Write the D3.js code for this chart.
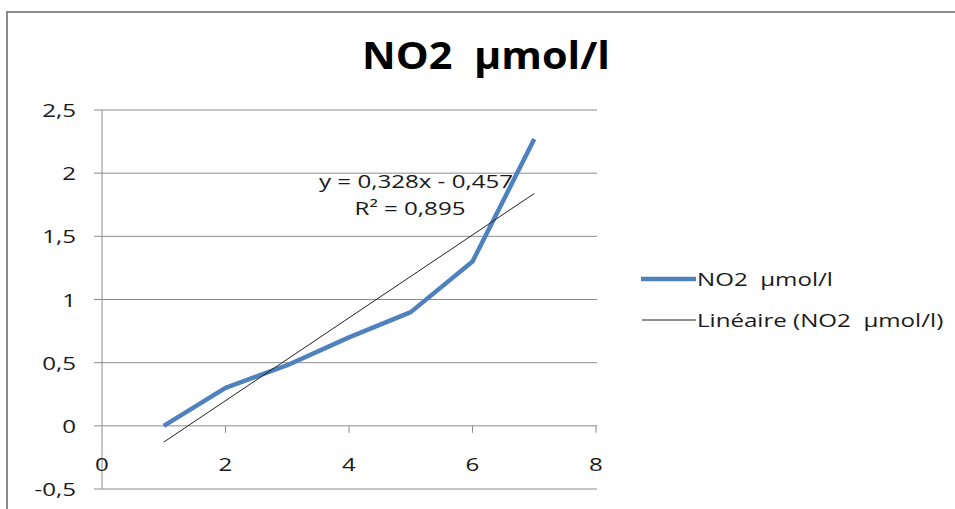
<!DOCTYPE html>
<html><head><meta charset="utf-8">
<script src="https://cdn.jsdelivr.net/npm/d3@7"></script>
<style>body{margin:0;background:#fff}svg{display:block}text{font-family:"Open Sans",sans-serif;white-space:pre}</style>
</head><body>
<svg id="c" width="955" height="509"></svg>
<script>
const title = "NO2  \u00b5mol/l";
const xValues = [1, 2, 3, 4, 5, 6, 7];
const no2Values = [0, 0.3, 0.48, 0.70, 0.90, 1.30, 2.27];
const yTicks = [-0.5, 0, 0.5, 1, 1.5, 2, 2.5];
const xTicks = [0, 2, 4, 6, 8];
const seriesName = "NO2  \u00b5mol/l";
const trendName = "Lin\u00e9aire (NO2  \u00b5mol/l)";
const trendSlope = 0.328, trendIntercept = -0.457;
const eqLabel = "y = 0,328x - 0,457";
const r2Label = "R\u00b2 = 0,895";

const svg = d3.select("#c");
const fmt = v => String(v).replace(".", ",");
const SX = 1.34;
function txt(g, x, y, s, size, anchor, sx, weight) {
  return g.append("text").attr("transform",`translate(${x},${y}) scale(${sx},1)`)
    .attr("text-anchor",anchor).attr("font-size",size).attr("font-weight",weight||"normal")
    .attr("fill","#1a1a1a").text(s);
}
svg.append("rect").attr("x",7).attr("y",12).attr("width",1000).attr("height",600)
  .attr("fill","#fff").attr("stroke","#8a8a8a").attr("stroke-width",2);

const x = d3.scaleLinear().domain([0,8]).range([102,596]);
const y = d3.scaleLinear().domain([-0.5,2.5]).range([489,110]);

txt(svg, 486, 69, title, 37, "middle", 1.12, "bold").attr("fill","#000");

svg.append("g").selectAll("line").data(yTicks).join("line")
  .attr("x1",94).attr("x2",597).attr("y1",d=>y(d)).attr("y2",d=>y(d))
  .attr("stroke","#8c8c8c").attr("stroke-width",1);
svg.append("line").attr("x1",x(0)).attr("x2",x(0)).attr("y1",y(2.5)).attr("y2",y(-0.5))
  .attr("stroke","#8c8c8c");
const gy = svg.append("g");
yTicks.forEach(d => txt(gy, 76, y(d)+7, fmt(d), 18, "end", SX));
svg.append("g").selectAll("line").data(xTicks.filter(d=>d>0)).join("line")
  .attr("x1",d=>x(d)).attr("x2",d=>x(d)).attr("y1",y(0)).attr("y2",y(0)+7)
  .attr("stroke","#8c8c8c");
const gx = svg.append("g");
xTicks.forEach(d => txt(gx, x(d), 471, fmt(d), 18, "middle", SX));

const line = d3.line().x((d,i)=>x(xValues[i])).y(d=>y(d));
svg.append("path").datum(no2Values).attr("d",line).attr("fill","none")
  .attr("stroke","#4f81bd").attr("stroke-width",4.5).attr("stroke-linejoin","round");
const tx = [xValues[0], xValues[xValues.length-1]];
svg.append("line").attr("x1",x(tx[0])).attr("y1",y(trendSlope*tx[0]+trendIntercept))
  .attr("x2",x(tx[1])).attr("y2",y(trendSlope*tx[1]+trendIntercept))
  .attr("stroke","#222").attr("stroke-width",1);
txt(svg, 416, 188, eqLabel, 18, "middle", SX);
txt(svg, 410, 215, r2Label, 18, "middle", SX);

svg.append("line").attr("x1",641).attr("x2",696).attr("y1",279).attr("y2",279)
  .attr("stroke","#4f81bd").attr("stroke-width",4.5);
txt(svg, 697, 286, seriesName, 18, "start", SX);
svg.append("line").attr("x1",642).attr("x2",696).attr("y1",320).attr("y2",320)
  .attr("stroke","#222").attr("stroke-width",1);
txt(svg, 697, 327, trendName, 18, "start", SX);
</script>
</body></html>
